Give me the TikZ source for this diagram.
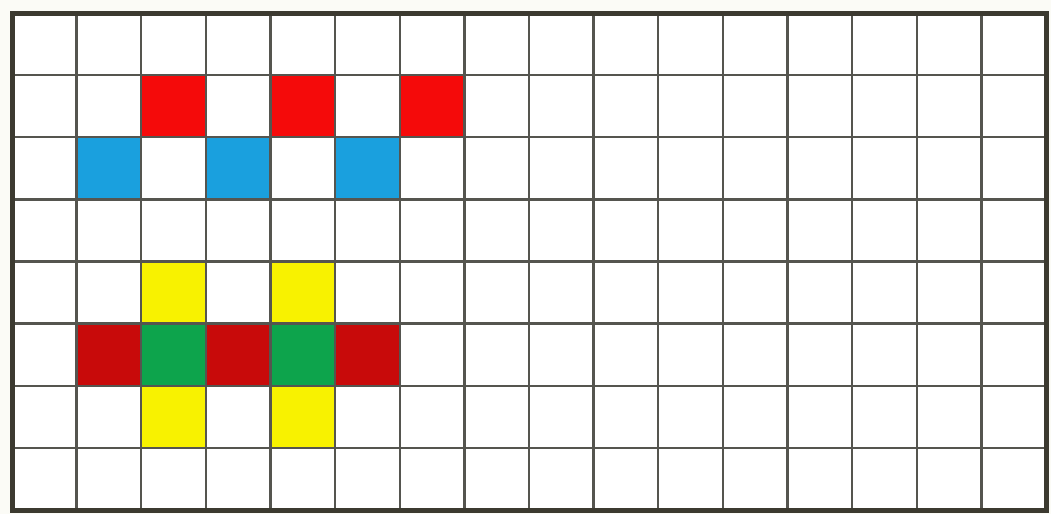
\documentclass[tikz,border=0pt]{standalone}
\definecolor{cRed}{HTML}{F50A0A}
\definecolor{cBlue}{HTML}{1AA0DE}
\definecolor{cYellow}{HTML}{F8F200}
\definecolor{cGreen}{HTML}{0DA44C}
\definecolor{cDark}{HTML}{C80A0A}
\definecolor{gridline}{HTML}{55554F}
\definecolor{frame}{HTML}{3C3A30}
\definecolor{bg}{HTML}{FBFBF6}
\begin{document}
\begin{tikzpicture}[x=1pt,y=-1pt,
  cell/.style={fill=#1},
  gline/.style={draw=gridline,line width=2.4pt},
  border/.style={draw=frame,line width=5pt}]
\useasboundingbox (0,0) rectangle (1051,514);
\fill[bg] (0,0) rectangle (1051,514);
\def\cw{64.625}
\def\rh{62.125}
\def\xo{12}
\def\yo{13}
\fill[white] (\xo,\yo) rectangle (1046,510);
% coloured cells: {col/row/colour}
\foreach \c/\r/\k in {2/1/cRed,4/1/cRed,6/1/cRed,
                       1/2/cBlue,3/2/cBlue,5/2/cBlue,
                       2/4/cYellow,4/4/cYellow,
                       1/5/cDark,2/5/cGreen,3/5/cDark,4/5/cGreen,5/5/cDark,
                       2/6/cYellow,4/6/cYellow}
  \path[cell=\k] ({\xo+\c*\cw},{\yo+\r*\rh}) rectangle ({\xo+(\c+1)*\cw},{\yo+(\r+1)*\rh});
% grid lines
\foreach \i in {1,...,15}
  \draw[gline] ({\xo+\i*\cw},\yo) -- ({\xo+\i*\cw},510);
\foreach \j in {1,...,7}
  \draw[gline] (\xo,{\yo+\j*\rh}) -- (1046,{\yo+\j*\rh});
% outer frame
\draw[border] (\xo,\yo) rectangle (1046,510);
\end{tikzpicture}
\end{document}
